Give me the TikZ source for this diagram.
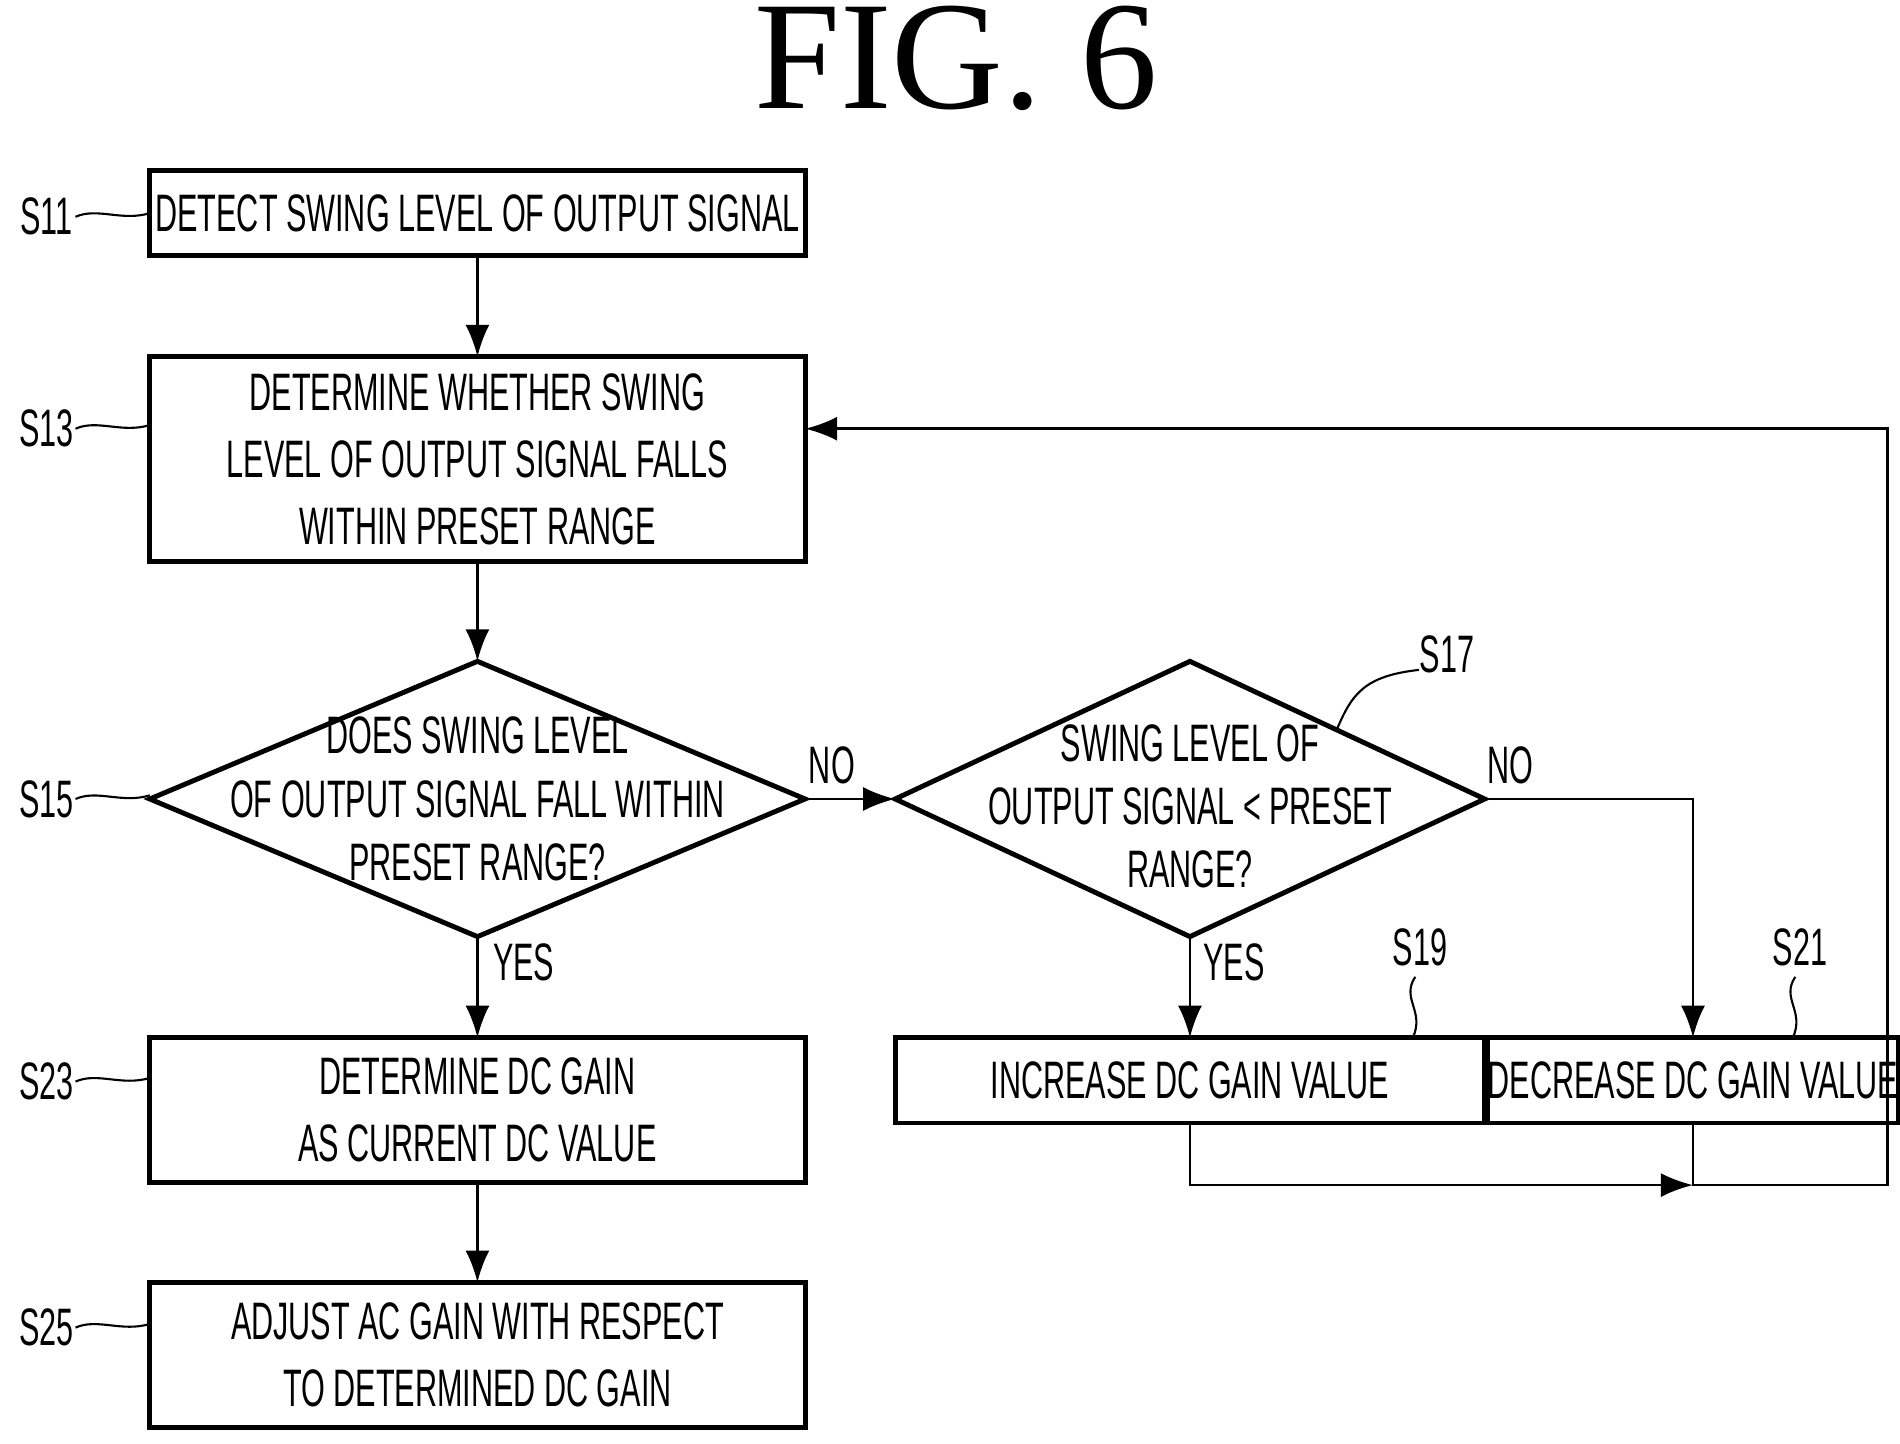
\documentclass[tikz,border=0pt]{standalone}
\usepackage{fontspec}
\setmainfont{Liberation Serif}
\newfontfamily\flowfont[FakeStretch=0.58]{Liberation Sans}
\usetikzlibrary{arrows.meta}

\tikzset{
  box/.style={draw, line width=1.4pt, inner sep=0pt, outer sep=0pt, align=center,
    font=\flowfont\fontsize{15}{19}\selectfont},
  tag/.style={font=\flowfont\fontsize{15}{18}\selectfont},
  flow/.style={line width=0.8pt, -{Latex[length=3.2mm, width=2.4mm]}},
  lead/.style={line width=0.6pt},
}

\begin{document}
\begin{tikzpicture}[x=0.01218cm, y=-0.01218cm]
      \useasboundingbox (0,0) rectangle (1560,1185);
      \node[font=\fontsize{44}{48}\selectfont] (title) at (785,48) {FIG. 6};

      % steps
      \node[box, minimum width=6.553cm, minimum height=0.853cm] (s11) at (392,175) {DETECT SWING LEVEL OF OUTPUT SIGNAL};
      \node[box, minimum width=6.553cm, minimum height=2.046cm] (s13) at (392,377) {DETERMINE WHETHER SWING\\LEVEL OF OUTPUT SIGNAL FALLS\\WITHIN PRESET RANGE};
      \node[box, minimum width=6.553cm, minimum height=1.449cm] (s23) at (392,911.5) {DETERMINE DC GAIN\\AS CURRENT DC VALUE};
      \node[box, minimum width=6.553cm, minimum height=1.449cm] (s25) at (392,1112.5) {ADJUST AC GAIN WITH RESPECT\\TO DETERMINED DC GAIN};
      \node[box, minimum width=5.895cm, minimum height=0.853cm] (s19) at (977,887) {INCREASE DC GAIN VALUE};
      \node[box, minimum width=3.459cm, minimum height=0.853cm] (s21) at (1390,887) {DECREASE DC GAIN VALUE};

      % decisions
      \coordinate (a15) at (392,543);
      \coordinate (r15) at (661,656);
      \coordinate (b15) at (392,769);
      \coordinate (l15) at (123,656);
      \draw[line width=1.4pt] (a15) -- (r15) -- (b15) -- (l15) -- cycle;
      \node[tag, align=center] (s15) at (392,656) {DOES SWING LEVEL\\OF OUTPUT SIGNAL FALL WITHIN\\PRESET RANGE?};
      \coordinate (a17) at (977,543);
      \coordinate (r17) at (1219,656);
      \coordinate (b17) at (977,769);
      \coordinate (l17) at (735,656);
      \draw[line width=1.4pt] (a17) -- (r17) -- (b17) -- (l17) -- cycle;
      \node[tag, align=center] (s17) at (977,662) {SWING LEVEL OF\\OUTPUT SIGNAL < PRESET\\RANGE?};

      % connectors
      \coordinate (join) at (1390,973);
      \coordinate (back) at (1550,973);
      \coordinate (r13) at (661,352);
      \draw[flow] (s11) -- (s13);
      \draw[flow] (s13) -- (a15);
      \draw[flow] (r15) -- (l17);
      \draw[flow] (b15) -- (s23);
      \draw[flow] (s23) -- (s25);
      \draw[flow] (b17) -- (s19);
      \draw[flow] (r17) -| (s21);
      \draw[flow] (s19) |- (join);
      \draw[flow] (s21) -- (join) -- (back) |- (r13);

      % branch labels
      \node[tag] (no1) at (683,628) {NO};
      \node[tag] (no2) at (1240,628) {NO};
      \node[tag] (yes1) at (430,790) {YES};
      \node[tag] (yes2) at (1013,790) {YES};

      % step labels
      \foreach \name/\y in {S11/178, S13/352, S15/656, S23/888, S25/1090} {
        \node[tag] (l\name) at (38,\y) {\name};
        \draw[lead] (62,\y) .. controls (80,\y-8) and (100,\y+4) .. (123,\y-3);
      }
      \node[tag] (lS17) at (1188,537) {S17};
      \draw[lead] (1165,550) .. controls (1120,555) and (1110,570) .. (1098,598);
      \node[tag] (lS19) at (1166,778) {S19};
      \draw[lead] (1162,802) .. controls (1150,820) and (1170,830) .. (1160,852);
      \node[tag] (lS21) at (1478,778) {S21};
      \draw[lead] (1474,802) .. controls (1462,820) and (1482,830) .. (1472,852);
\end{tikzpicture}
\end{document}
